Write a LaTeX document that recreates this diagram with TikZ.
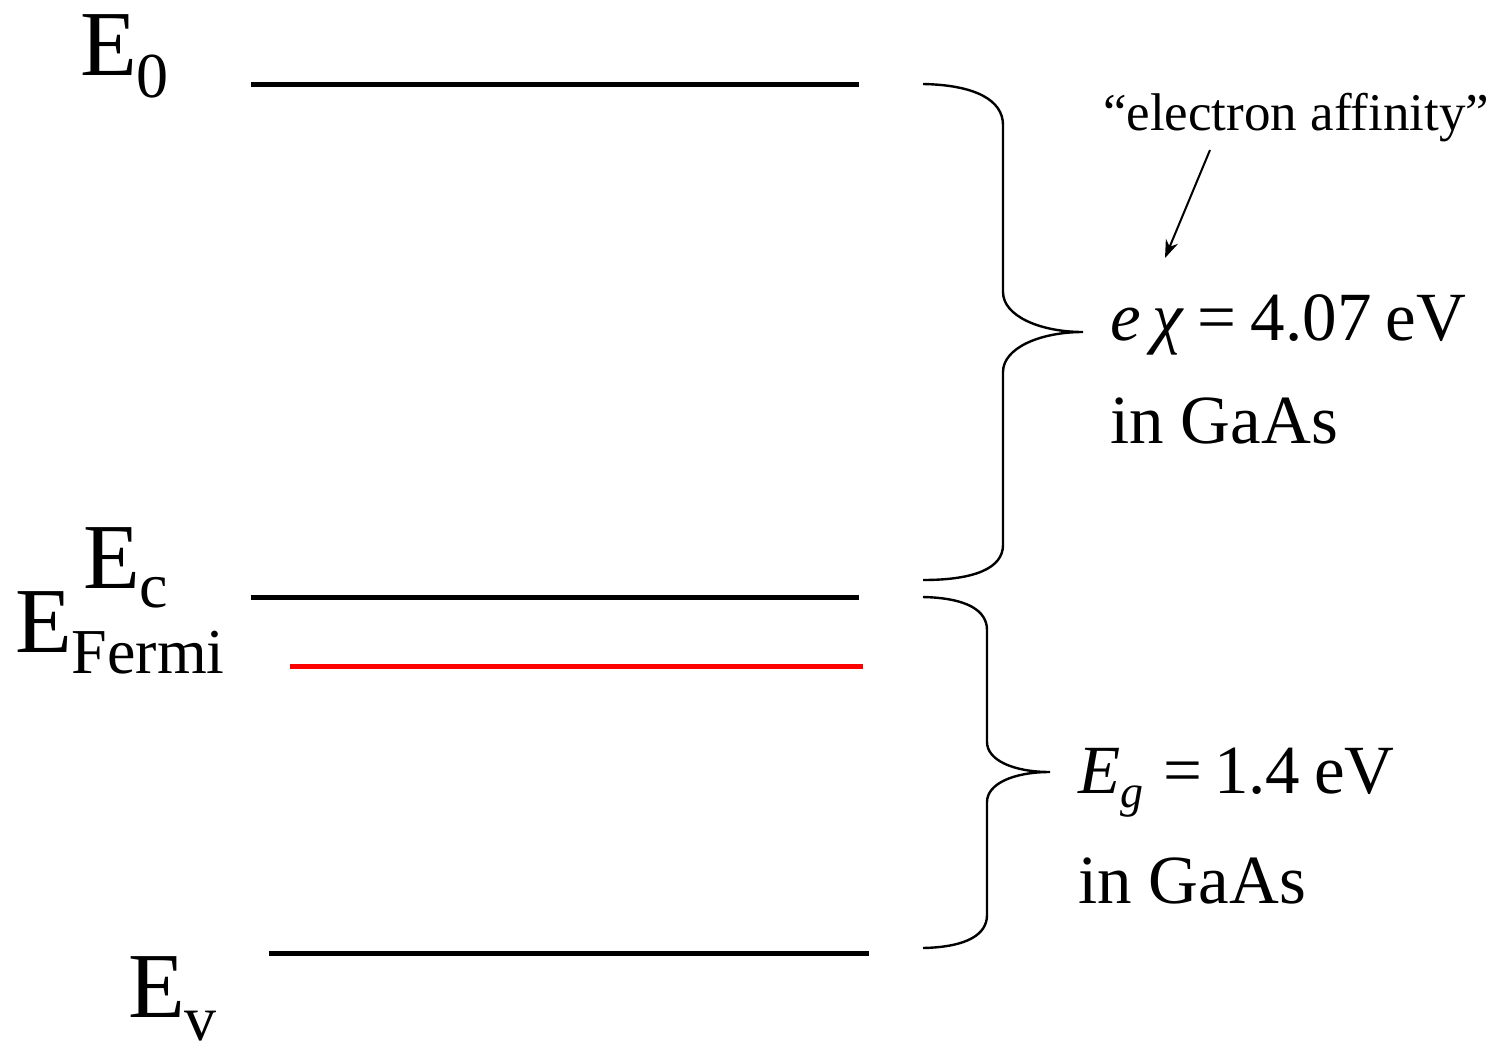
\documentclass[tikz,border=0pt]{standalone}
\usepackage{fontspec}
\setmainfont{Liberation Serif}
\usetikzlibrary{arrows.meta}
\tikzset{
  level/.style={line width=5pt},
  fermi/.style={line width=5pt, red},
  brace/.style={line width=2.4pt},
  lbl/.style={anchor=base west, inner sep=0pt, outer sep=0pt, font=\fontsize{93}{93}\selectfont},
  rtxt/.style={anchor=base west, inner sep=0pt, outer sep=0pt, font=\fontsize{69}{69}\selectfont},
  note/.style={anchor=base west, inner sep=0pt, outer sep=0pt, font=\fontsize{53}{53}\selectfont},
  pointer/.style={line width=2pt, -{Stealth[length=18pt,width=13pt]}}
}
\newcommand{\subsz}[2]{\raisebox{#1}{\fontsize{64}{64}\selectfont #2}}
\begin{document}
\begin{tikzpicture}[x=1pt,y=-1pt]
\useasboundingbox (0,0) rectangle (1512,1042);
% level endpoints
\coordinate (e0a) at (251,84);  \coordinate (e0b) at (859,84);
\coordinate (eca) at (251,597); \coordinate (ecb) at (859,597);
\coordinate (efa) at (290,666); \coordinate (efb) at (863,666);
\coordinate (eva) at (269,953); \coordinate (evb) at (869,953);
\draw[level] (e0a) -- (e0b);
\draw[level] (eca) -- (ecb);
\draw[fermi] (efa) -- (efb);
\draw[level] (eva) -- (evb);
% labels
\node[lbl] (l0) at (80,75) {E\subsz{-22pt}{0}};
\node[lbl] (lc) at (83,588) {E\subsz{-19pt}{c}};
\node[lbl] (lf) at (15,652) {E\subsz{-21pt}{Fermi}};
\node[lbl] (lv) at (128,1017) {E\subsz{-23pt}{v}};
% upper brace
\draw[brace] (923,84) .. controls (975,85) and (1003,100) .. (1003,125)
  -- (1003,292) .. controls (1003,316) and (1040,332) .. (1083,332)
  .. controls (1040,332) and (1003,348) .. (1003,372)
  -- (1003,545) .. controls (1003,568) and (975,580) .. (923,580);
% lower brace
\draw[brace] (923,597) .. controls (968,598) and (987,611) .. (987,630)
  -- (987,742) .. controls (987,760) and (1013,772) .. (1050,772)
  .. controls (1013,772) and (987,784) .. (987,802)
  -- (987,915) .. controls (987,934) and (968,947) .. (923,948);
% right texts
\node[note] (aff) at (1103,130) {“electron affinity”};
\node[rtxt] (chi) at (1110,340) {\textit{e\,χ}\hspace{14pt}=\hspace{14pt}4.07\hspace{14pt}eV};
\node[rtxt] (gas1) at (1110,443) {in GaAs};
\node[rtxt] (eg) at (1078,793) {\textit{E}\raisebox{-14pt}{\fontsize{46}{46}\selectfont\textit{g}}\hspace{20pt}=\hspace{12pt}1.4\hspace{14pt}eV};
\node[rtxt] (gas2) at (1078,903) {in GaAs};
\coordinate (tipc) at (1165,258);
\draw[pointer] (1210,150) -- (tipc);
\end{tikzpicture}
\end{document}
